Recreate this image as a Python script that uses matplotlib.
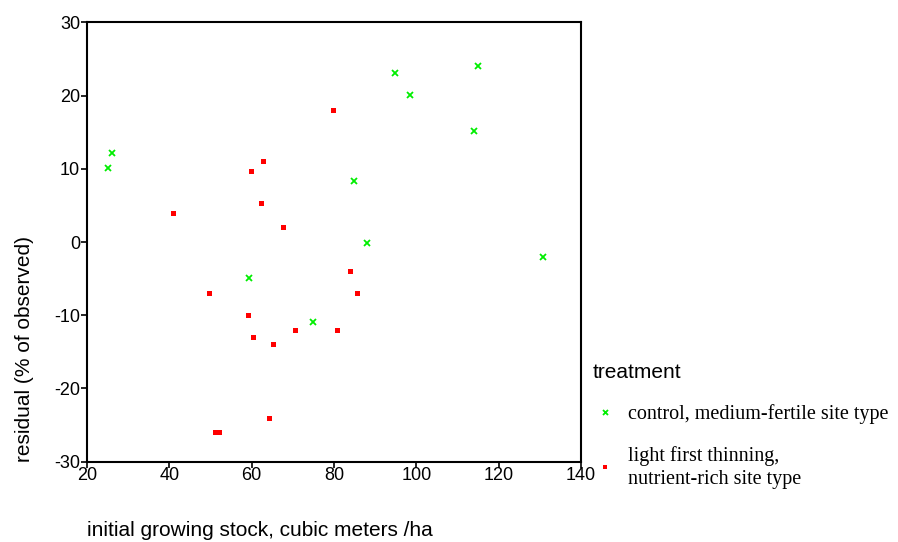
import matplotlib.pyplot as plt

plt.rcParams['axes.unicode_minus'] = False

# control, medium-fertile site type
controlX = [25, 26.1, 94.7, 98.5, 115, 113.9, 84.9, 88.1, 130.8, 59.3, 74.8]
controlY = [10.1, 12.1, 23.1, 20.1, 24.1, 15.2, 8.3, -0.2, -2.0, -4.9, -11.0]

# light first thinning, nutrient-rich site type
thinX = [79.7, 62.8, 59.9, 62.2, 40.8, 67.7, 83.9, 49.7, 85.5, 59.1,
         70.6, 80.8, 60.2, 65.2, 64.1, 51.0, 52.1]
thinY = [18.1, 11.1, 9.7, 5.3, 4.0, 2.0, -4.0, -7.0, -7.0, -10.0,
         -12.0, -12.0, -13.0, -14.0, -24.0, -26.0, -26.0]

xTicks = [20, 40, 60, 80, 100, 120, 140]
yTicks = [-30, -20, -10, 0, 10, 20, 30]

sans = 'Liberation Sans'
serif = 'Liberation Serif'

fig = plt.figure(figsize=(8.98, 5.42), dpi=100)
ax = fig.add_axes([0.0969, 0.1485, 0.5501, 0.81])

ax.plot(controlX, controlY, linestyle='none', marker='x', markersize=4.5,
        markeredgewidth=1.3, color='#00ee00',
        label='control, medium-fertile site type')
ax.plot(thinX, thinY, linestyle='none', marker='s', markersize=3.6,
        markeredgewidth=0, color='#ff0000',
        label='light first thinning,\nnutrient-rich site type')

ax.set_xlim(20, 140)
ax.set_ylim(-30, 30)
ax.set_xticks(xTicks)
ax.set_yticks(yTicks)
for lbl in ax.get_xticklabels() + ax.get_yticklabels():
    lbl.set_fontfamily(sans)
    lbl.set_fontsize(13)
ax.tick_params(direction='out', length=4, width=1.2, pad=1, colors='black')
ax.tick_params(axis='x', pad=0)

for sp in ax.spines.values():
    sp.set_linewidth(1.5)

ax.set_xlabel('initial growing stock, cubic meters /ha', fontfamily=sans,
              fontsize=15, loc='left')
ax.xaxis.set_label_coords(0, -0.135)
ax.set_ylabel('residual (% of observed)', fontfamily=sans, fontsize=15,
              loc='bottom')
ax.yaxis.set_label_coords(-0.107, 0)

leg = ax.legend(loc='upper left', bbox_to_anchor=(0.6505, 0.346),
                bbox_transform=fig.transFigure, frameon=False,
                title='treatment', alignment='left',
                prop={'family': serif, 'size': 14.5},
                title_fontproperties={'family': sans, 'size': 15},
                markerscale=0.8, handlelength=1.3, handletextpad=0.5,
                labelspacing=1.1, borderaxespad=0)
for t in leg.get_texts():
    t.set_linespacing(1.3)

plt.savefig('out.png', dpi=100)
